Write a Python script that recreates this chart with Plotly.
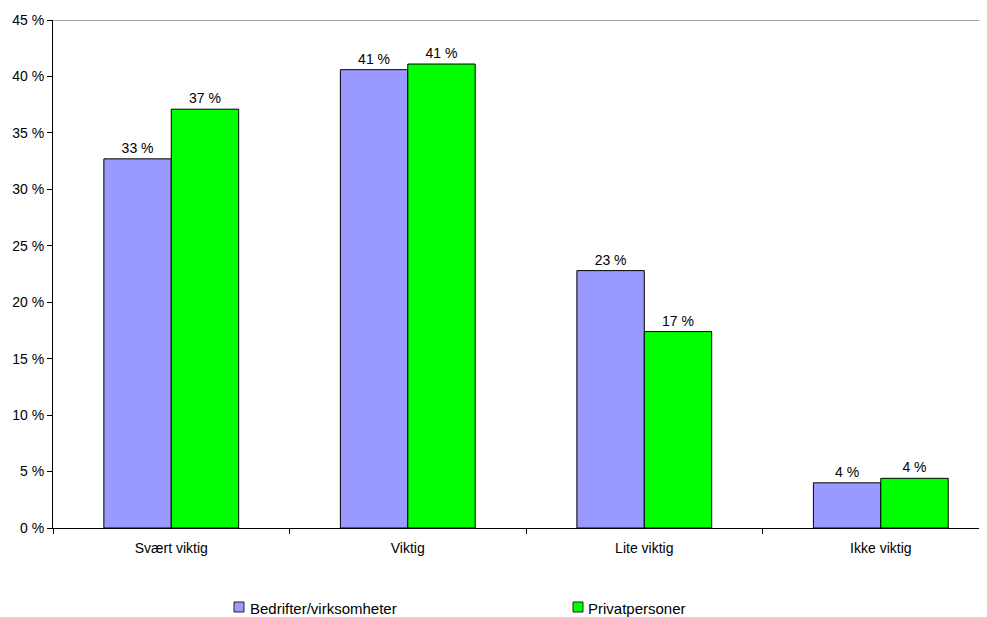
import plotly.graph_objects as go

categories = ["Svært viktig", "Viktig", "Lite viktig", "Ikke viktig"]
series_names = ["Bedrifter/virksomheter", "Privatpersoner"]
bedrifter = [32.7, 40.6, 22.8, 4.0]
privat = [37.1, 41.1, 17.4, 4.4]
bedrifter_labels = ["33 %", "41 %", "23 %", "4 %"]
privat_labels = ["37 %", "41 %", "17 %", "4 %"]
y_ticks = [0, 5, 10, 15, 20, 25, 30, 35, 40, 45]
y_tick_labels = ["0 %", "5 %", "10 %", "15 %", "20 %", "25 %", "30 %", "35 %", "40 %", "45 %"]
colors = ["#9999FF", "#00FF00"]

font = "Liberation Sans, Arial, sans-serif"

# page body has an 8px margin, so the figure is shifted by 8px
OFF = 8
W, H = 987 - OFF, 617 - OFF
ML, MR, MT, MB = 53 - OFF, 0, 20 - OFF, 89
PW, PH = W - ML - MR, H - MT - MB

def px_x(px):
    return (px - OFF - ML) / PW

def px_y(py):
    return (H - MB - (py - OFF)) / PH

fig = go.Figure()
for name, vals, labels, col in [(series_names[0], bedrifter, bedrifter_labels, colors[0]),
                                (series_names[1], privat, privat_labels, colors[1])]:
    fig.add_trace(go.Bar(
        name=name, x=categories, y=vals,
        text=labels, textposition="outside", cliponaxis=False,
        textfont=dict(color="black", size=14, family=font),
        marker=dict(color=col, line=dict(color="black", width=1)),
        showlegend=False,
    ))

shapes = [dict(type="line", xref="paper", yref="y", x0=0, x1=1, y0=45, y1=45,
               line=dict(color="#888888", width=1.5))]
annotations = []
legend_pos = [(234, 248), (573, 586)]
for (sq_x, tx_x), name, col in zip(legend_pos, series_names, colors):
    shapes.append(dict(type="rect", xref="paper", yref="paper",
                       x0=px_x(sq_x), x1=px_x(sq_x + 10), y0=px_y(612), y1=px_y(602),
                       fillcolor=col, line=dict(color="#222222", width=1)))
    annotations.append(dict(text=name, xref="paper", yref="paper", x=px_x(tx_x), y=px_y(608),
                            xanchor="left", yanchor="middle", showarrow=False,
                            font=dict(size=15, family=font, color="black")))

fig.update_layout(
    width=W, height=H,
    margin=dict(l=ML, r=MR, t=MT, b=MB),
    paper_bgcolor="white", plot_bgcolor="white",
    barmode="group", bargap=0.43, bargroupgap=0,
    font=dict(family=font, size=14, color="black"),
    showlegend=False,
    xaxis=dict(range=[-0.5, 3.449], showline=True, linecolor="black", linewidth=1,
               ticks="outside", tickson="boundaries", ticklen=5, tickcolor="black",
               showgrid=False, tickfont=dict(size=14), automargin=False,
               ticklabelstandoff=7),
    yaxis=dict(range=[0, 45], tickvals=y_ticks, ticktext=y_tick_labels, showline=True,
               linecolor="black", linewidth=1, ticks="outside", ticklen=5,
               tickcolor="black", showgrid=False, zeroline=False, tickfont=dict(size=14),
               automargin=False),
    shapes=shapes,
    annotations=annotations,
)

fig.write_html("out.html")
